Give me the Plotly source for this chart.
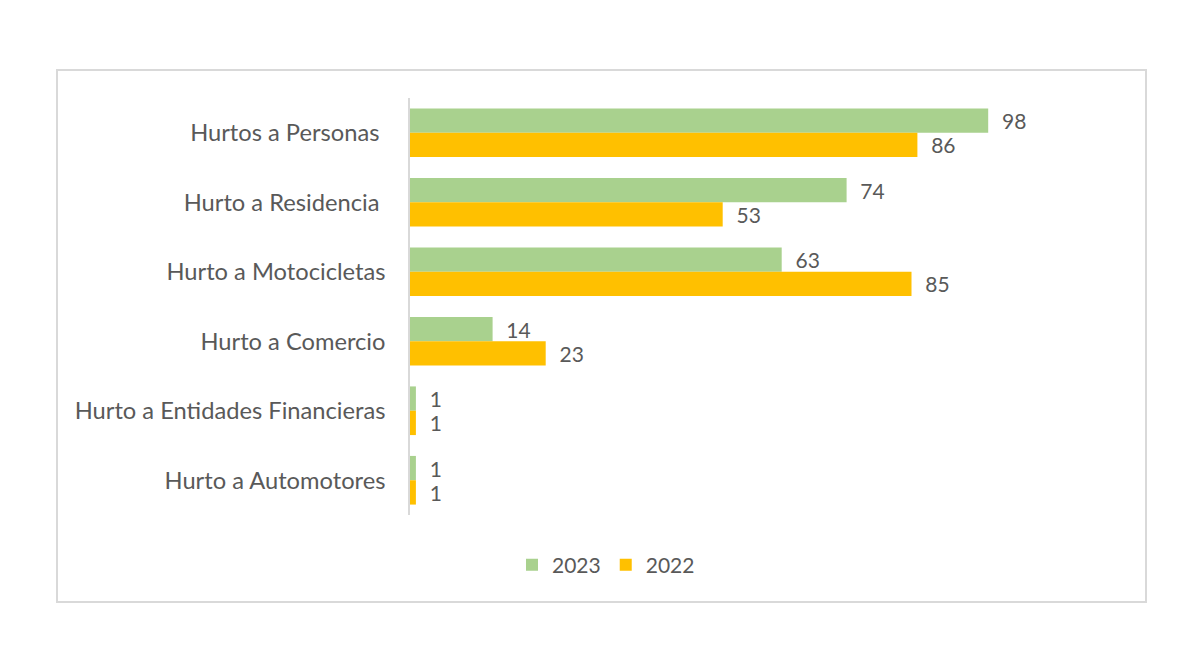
import plotly.graph_objects as go

categories = ["Hurtos a Personas\u00a0", "Hurto a Residencia\u00a0", "Hurto a Motocicletas",
              "Hurto a Comercio", "Hurto a Entidades Financieras", "Hurto a Automotores"]
values_2023 = [98, 74, 63, 14, 1, 1]
values_2022 = [86, 53, 85, 23, 1, 1]

GREEN = "#A9D18E"
ORANGE = "#FFC000"
TXT = "#595959"
FONT = "Lato"

fig = go.Figure()
for name, vals, col in [("2023", values_2023, GREEN), ("2022", values_2022, ORANGE)]:
    fig.add_trace(go.Bar(
        y=categories, x=vals, name=name, orientation="h",
        marker=dict(color=col, line=dict(width=0)),
        text=vals, texttemplate="  %{x}", textposition="outside", constraintext="none",
        textfont=dict(family=FONT, size=21, color=TXT), cliponaxis=False,
    ))

L, R, T, B = 410, 1100, 98, 515
W, H = 1200, 650
pw, ph = R - L, B - T

def px_x(x):
    return (x - L) / pw

def px_y(y):
    return (B - y) / ph

fig.update_layout(
    width=W, height=H,
    margin=dict(l=L, r=W - R, t=T, b=H - B, autoexpand=False),
    paper_bgcolor="white", plot_bgcolor="white",
    barmode="group", bargap=0.3, bargroupgap=0,
    font=dict(family=FONT, size=20, color=TXT),
    xaxis=dict(range=[0, pw / 5.9], visible=False, showgrid=False, zeroline=False),
    yaxis=dict(autorange="reversed", showline=True, linecolor="#D9D9D9", linewidth=1.5,
               ticks="", showgrid=False, ticklabelstandoff=18,
               tickfont=dict(family=FONT, size=23.7, color=TXT)),
    legend=dict(orientation="h", x=px_x(606), xanchor="center", y=px_y(565), yanchor="middle",
                font=dict(family=FONT, size=21, color=TXT), itemwidth=30,
                traceorder="normal"),
    shapes=[dict(type="rect", xref="paper", yref="paper",
                 x0=px_x(57), x1=px_x(1146), y0=px_y(602), y1=px_y(70),
                 line=dict(color="#D9D9D9", width=2), layer="below")],
)

fig.write_html("out.html")
